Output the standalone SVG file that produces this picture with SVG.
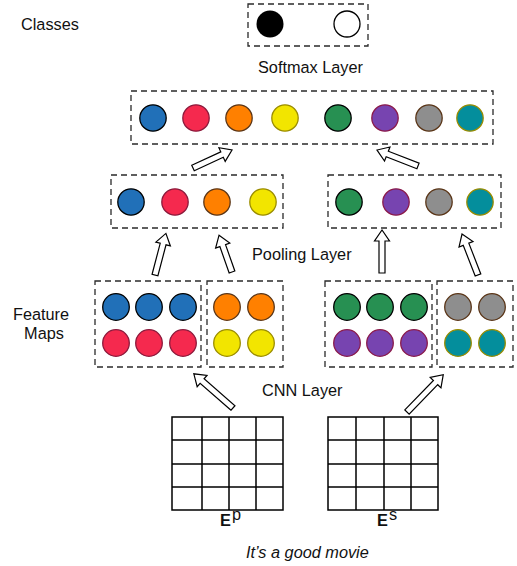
<svg xmlns="http://www.w3.org/2000/svg" width="517" height="566" viewBox="0 0 517 566">
<style>
text{font-family:"Liberation Sans",Arial,sans-serif;font-size:16.3px;fill:#111}
.box{fill:none;stroke:#2a2a2a;stroke-width:1.3;stroke-dasharray:6 4}
.arr{fill:#fff;stroke:#000;stroke-width:1.2;stroke-linejoin:miter}
.grid{fill:#fff;stroke:#000;stroke-width:1.5}
.c{stroke-width:1.3}
.bl{fill:#2170b8;stroke:#000}
.rd{fill:#f5294e;stroke:#8b1a3c}
.or{fill:#ff8000;stroke:#5a3517}
.ye{fill:#f2e500;stroke:#9a8c00}
.gr{fill:#279052;stroke:#000}
.pu{fill:#7744b0;stroke:#8b1a4a}
.gy{fill:#8e8e8e;stroke:#5a3517}
.te{fill:#048e9c;stroke:#9a8c00}
</style>
<g id="labels">
<text x="21" y="30">Classes</text>
<text x="258" y="73">Softmax Layer</text>
<text x="252" y="260">Pooling Layer</text>
<text x="262" y="396">CNN Layer</text>
<text x="41" y="320" text-anchor="middle">Feature</text>
<text x="44" y="339" text-anchor="middle">Maps</text>
<text x="246" y="558" font-style="italic">It’s a good movie</text>
</g>
<g id="classes">
<rect class="box" x="248" y="4" width="120" height="42"/>
<circle cx="270" cy="24" r="13.5" fill="#000"/>
<circle cx="347" cy="24" r="13" fill="#fff" stroke="#000" stroke-width="1.3"/>
</g>
<g id="softmax">
<rect class="box" x="131" y="91" width="362" height="53"/>
<circle class="c bl" cx="153" cy="118" r="13.2"/>
<circle class="c rd" cx="196" cy="118" r="13.2"/>
<circle class="c or" cx="239" cy="118" r="13.2"/>
<circle class="c ye" cx="285" cy="118" r="13.2"/>
<circle class="c gr" cx="338" cy="118" r="13.2"/>
<circle class="c pu" cx="385" cy="118" r="13.2"/>
<circle class="c gy" cx="429" cy="118" r="13.2"/>
<circle class="c te" cx="470" cy="118" r="13.2"/>
</g>
<g id="pool-left">
<rect class="box" x="111" y="175" width="172" height="53"/>
<circle class="c bl" cx="131" cy="202" r="13.2"/>
<circle class="c rd" cx="175" cy="202" r="13.2"/>
<circle class="c or" cx="217" cy="202" r="13.2"/>
<circle class="c ye" cx="263" cy="202" r="13.2"/>
</g>
<g id="pool-right">
<rect class="box" x="328" y="175" width="173" height="53"/>
<circle class="c gr" cx="349" cy="202" r="13.2"/>
<circle class="c pu" cx="396" cy="202" r="13.2"/>
<circle class="c gy" cx="439" cy="202" r="13.2"/>
<circle class="c te" cx="480" cy="202" r="13.2"/>
</g>
<g id="fmap-left-a">
<rect class="box" x="95" y="281" width="106" height="86"/>
<circle class="c bl" cx="116" cy="307" r="13.3"/>
<circle class="c bl" cx="149" cy="307" r="13.3"/>
<circle class="c bl" cx="183" cy="307" r="13.3"/>
<circle class="c rd" cx="116" cy="343" r="13.3"/>
<circle class="c rd" cx="149" cy="343" r="13.3"/>
<circle class="c rd" cx="183" cy="343" r="13.3"/>
</g>
<g id="fmap-left-b">
<rect class="box" x="207" y="281" width="76" height="86"/>
<circle class="c or" cx="227" cy="307" r="13.3"/>
<circle class="c or" cx="261" cy="307" r="13.3"/>
<circle class="c ye" cx="227" cy="343" r="13.3"/>
<circle class="c ye" cx="261" cy="343" r="13.3"/>
</g>
<g id="fmap-right-a">
<rect class="box" x="325" y="281" width="107" height="86"/>
<circle class="c gr" cx="347" cy="307" r="13.3"/>
<circle class="c gr" cx="380" cy="307" r="13.3"/>
<circle class="c gr" cx="414" cy="307" r="13.3"/>
<circle class="c pu" cx="347" cy="343" r="13.3"/>
<circle class="c pu" cx="380" cy="343" r="13.3"/>
<circle class="c pu" cx="414" cy="343" r="13.3"/>
</g>
<g id="fmap-right-b">
<rect class="box" x="437" y="281" width="76" height="86"/>
<circle class="c gy" cx="458" cy="307" r="13.3"/>
<circle class="c gy" cx="492" cy="307" r="13.3"/>
<circle class="c te" cx="458" cy="343" r="13.3"/>
<circle class="c te" cx="492" cy="343" r="13.3"/>
</g>
<g id="Ep">
<rect class="grid" x="172" y="417" width="111" height="93"/>
<path d="M202,417V510M229,417V510M256,417V510M172,440H283M172,464H283M172,487H283" stroke="#000" stroke-width="1.5" fill="none"/>
<text x="220" y="526" font-weight="bold">E</text><text x="232" y="520" font-size="12">p</text>
</g>
<g id="Es">
<rect class="grid" x="328" y="417" width="110" height="93"/>
<path d="M356,417V510M384,417V510M411,417V510M328,440H438M328,464H438M328,487H438" stroke="#000" stroke-width="1.5" fill="none"/>
<text x="377" y="526" font-weight="bold">E</text><text x="389" y="520" font-size="12">s</text>
</g>
<g id="connectors">
<path class="arr" transform="translate(193,168) rotate(-24.8)" d="M0,-3H32V-7.5L43,0L32,7.5V3H0Z"/>
<path class="arr" transform="translate(418,166) rotate(-158.7)" d="M0,-3H33V-7.5L44,0L33,7.5V3H0Z"/>
<path class="arr" transform="translate(155,275) rotate(-75.3)" d="M0,-3H32V-7.5L43,0L32,7.5V3H0Z"/>
<path class="arr" transform="translate(232,272) rotate(-109.4)" d="M0,-3H28V-7.5L39,0L28,7.5V3H0Z"/>
<path class="arr" transform="translate(382,273) rotate(-90)" d="M0,-3H32V-7.5L43,0L32,7.5V3H0Z"/>
<path class="arr" transform="translate(478,275) rotate(-111.3)" d="M0,-3H33V-7.5L44,0L33,7.5V3H0Z"/>
<path class="arr" transform="translate(233,408) rotate(-138.9)" d="M0,-3H41V-7.5L52,0L41,7.5V3H0Z"/>
<path class="arr" transform="translate(407,412) rotate(-45.8)" d="M0,-3H41V-7.5L52,0L41,7.5V3H0Z"/>
</g>
</svg>
